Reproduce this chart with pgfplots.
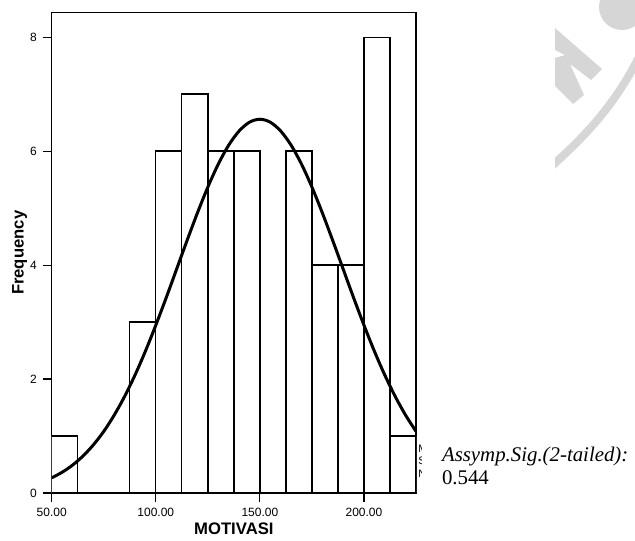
\documentclass[border=0pt]{standalone}
\usepackage{fontspec}
\setmainfont{Liberation Serif}
\setsansfont{Liberation Sans}
\usepackage{pgfplots}
\pgfplotsset{compat=1.18}
\definecolor{wmgray}{HTML}{D6D6D6}

\begin{document}
\begin{tikzpicture}
% page frame in pixel units of the reference
\begin{scope}[x=0.6pt,y=-0.6pt]
\useasboundingbox (0,0) rectangle (635,540);
% faint watermark, cut at its left edge
\begin{scope}
\clip (555,0) rectangle (635,540);
\fill[wmgray] (622,7) circle (13.8pt);
\fill[wmgray] (555,28) -- (602,69) -- (591,80) -- (570,64) -- (584,95) -- (573,104)
   -- (555,86) -- (555,58) -- (565,55) -- (555,50) -- cycle;
\draw[wmgray, line width=4.8pt] (545,172) .. controls (585,137) and (615,105) .. (640,55);
\end{scope}
\end{scope}

\begin{axis}[
    at={(31.02pt,-295.8pt)}, anchor=south west,
    scale only axis,
    width=218.6pt, height=288.2pt,
    xmin=50, xmax=225,
    ymin=0, ymax=8.43,
    xtick={50,100,150,200},
    xticklabels={50.00,100.00,150.00,200.00},
    ytick={0,2,4,6,8},
    xtick pos=bottom, ytick pos=left,
    tick align=outside,
    major tick length=5.4pt,
    every tick/.style={black, line width=0.7pt},
    axis line style={line width=0.7pt},
    /pgf/number format/assume math mode=true,
    ticklabel style={font=\sffamily\fontsize{7.2}{8}\selectfont},
    xlabel={MOTIVASI},
    ylabel={Frequency},
    label style={font=\sffamily\bfseries\fontsize{10}{11}\selectfont},
    xlabel style={yshift=3pt},
    ylabel style={yshift=-5pt},
]

% histogram counts per bin of width 12.5
\addplot[ybar interval, draw=black, fill=white, line width=0.8pt] coordinates {
    (50,1) (62.5,0) (75,0) (87.5,3) (100,6) (112.5,7) (125,6) (137.5,6)
    (150,0) (162.5,6) (175,4) (187.5,4) (200,8) (212.5,1) (225,1)
};

% fitted normal curve
\addplot[black, line width=1.8pt, smooth] coordinates {
    (50,0.266) (55,0.364) (60,0.489) (65,0.648) (70,0.844) (75,1.081)
    (80,1.365) (85,1.694) (90,2.069) (95,2.488) (100,2.945) (105,3.428)
    (110,3.929) (115,4.430) (120,4.916) (125,5.369) (130,5.771) (135,6.104)
    (140,6.353) (145,6.508) (150,6.560) (155,6.508) (160,6.353) (165,6.104)
    (170,5.771) (175,5.369) (180,4.916) (185,4.430) (190,3.929) (195,3.428)
    (200,2.945) (205,2.488) (210,2.069) (215,1.694) (220,1.365) (225,1.081)
};
\end{axis}

\begin{scope}[x=0.6pt,y=-0.6pt]
% clipped statistics box of the original output: only first letters show
\begin{scope}
\clip (417.5,430) rectangle (421,485);
\node[anchor=base west, inner sep=0, font=\sffamily\fontsize{6.5}{7}\selectfont] at (418,452) {M};
\node[anchor=base west, inner sep=0, font=\sffamily\fontsize{6.5}{7}\selectfont] at (418,464) {S};
\node[anchor=base west, inner sep=0, font=\sffamily\fontsize{6.5}{7}\selectfont] at (418,477) {N};
\end{scope}
\node[anchor=base west, inner sep=0, font=\fontsize{12.5}{14}\selectfont\itshape] at (441.7,461) {Assymp.Sig.(2-tailed):};
\node[anchor=base west, inner sep=0, font=\fontsize{12.5}{14}\selectfont] at (441.7,484) {0.544};
\end{scope}
\end{tikzpicture}
\end{document}
